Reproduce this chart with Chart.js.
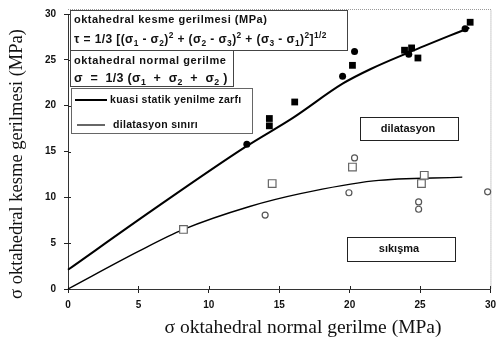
<!DOCTYPE html>
<html>
<head>
<meta charset="utf-8">
<script src="https://cdn.jsdelivr.net/npm/chart.js@4.4.1/dist/chart.umd.min.js"></script>
<style>
html,body{margin:0;padding:0;background:#fff;}
#wrap{width:502px;height:345px;position:relative;}
</style>
</head>
<body>
<div id="wrap"><canvas id="c" width="502" height="345"></canvas></div>
<script>
// ---- data ----
const upperX = [0, 6, 12.6, 16, 19.5, 21.5, 24.2, 28.5];
const upperY = [2.1, 8.6, 15.5, 18.7, 22.4, 24.0, 25.8, 28.5];
const lowerX = [0, 5, 8.2, 12.9, 16.5, 21.7, 28];
const lowerY = [0, 4.1, 6.5, 9.0, 10.4, 11.8, 12.2];
const filledCircleX = [12.7, 19.5, 20.35, 24.2, 28.2];
const filledCircleY = [15.8, 23.2, 25.9, 25.6, 28.4];
const filledSquareX = [14.3, 14.3, 16.1, 20.2, 23.9, 24.4, 24.85, 28.56];
const filledSquareY = [18.6, 17.8, 20.4, 24.4, 26.05, 26.3, 25.2, 29.1];
const openCircleX = [14.0, 20.35, 19.95, 24.9, 24.9, 29.8];
const openCircleY = [8.06, 14.3, 10.5, 9.5, 8.7, 10.6];
const openSquareX = [8.2, 14.5, 20.2, 25.3, 25.1];
const openSquareY = [6.5, 11.5, 13.3, 12.4, 11.5];
const xTicks = [0, 5, 10, 15, 20, 25, 30];
const yTicks = [0, 5, 10, 15, 20, 25, 30];
const xTitle = 'σ oktahedral normal gerilme (MPa)';
const yTitle = 'σ oktahedral kesme gerilmesi (MPa)';
const legendUpper = 'kuasi statik yenilme zarfı';
const legendLower = 'dilatasyon sınırı';
const zoneTop = 'dilatasyon';
const zoneBottom = 'sıkışma';

const pts = (xs, ys) => xs.map((x, i) => ({x: x, y: ys[i]}));

function richText(ctx, x, y, segs, size, spacing) {
  let cx = x;
  ctx.letterSpacing = (spacing || 0) + 'px';
  segs.forEach(s => {
    let t = s[0], m = s[1] || '';
    let fs = m ? size * 0.7 : size;
    ctx.font = 'bold ' + fs + 'px "Liberation Sans", Arial, sans-serif';
    let dy = m === 'b' ? size * 0.3 : (m === 'p' ? -size * 0.4 : 0);
    ctx.fillText(t, cx, y + dy);
    cx += ctx.measureText(t).width;
  });
  ctx.letterSpacing = '0px';
}

function box(ctx, x1, y1, x2, y2, color) {
  ctx.save();
  ctx.fillStyle = '#fff';
  ctx.fillRect(x1, y1, x2 - x1, y2 - y1);
  ctx.strokeStyle = color || '#444';
  ctx.lineWidth = 1;
  ctx.strokeRect(x1 + 0.5, y1 + 0.5, x2 - x1, y2 - y1);
  ctx.restore();
}

const decor = {
  id: 'decor',
  beforeDatasetsDraw(chart) {
    const ctx = chart.ctx, a = chart.chartArea;
    ctx.save();
    ctx.strokeStyle = '#999';
    ctx.lineWidth = 1;
    ctx.setLineDash([1, 1]);
    ctx.beginPath();
    ctx.moveTo(a.left, a.top - 5 + 0.5);
    ctx.lineTo(a.right + 0.5, a.top - 5 + 0.5);
    ctx.lineTo(a.right + 0.5, a.bottom);
    ctx.stroke();
    ctx.setLineDash([]);
    // crossing tick marks on the axes
    ctx.strokeStyle = '#222';
    const xs = chart.scales.x, ys = chart.scales.y;
    ctx.beginPath();
    yTicks.forEach(v => { const p = Math.round(ys.getPixelForValue(v)) + 0.5; ctx.moveTo(a.left, p); ctx.lineTo(a.left + 3, p); });
    xTicks.forEach(v => { const p = Math.round(xs.getPixelForValue(v)) + 0.5; ctx.moveTo(p, a.bottom); ctx.lineTo(p, a.bottom - 3); });
    ctx.stroke();
    ctx.restore();
  },
  afterDraw(chart) {
    const ctx = chart.ctx;
    ctx.save();
    // axis titles
    ctx.fillStyle = '#111';
    ctx.textAlign = 'center';
    ctx.textBaseline = 'middle';
    ctx.font = '19.5px "Liberation Serif", "Times New Roman", serif';
    ctx.fillText(xTitle, 303, 328);
    ctx.font = '18.5px "Liberation Serif", "Times New Roman", serif';
    ctx.save();
    ctx.translate(17, 164);
    ctx.rotate(-Math.PI / 2);
    ctx.fillText(yTitle, 0, 0);
    ctx.restore();

    // formula boxes
    box(ctx, 70, 10, 347, 50);
    box(ctx, 70, 50, 233, 86);
    box(ctx, 71, 88, 252, 133, '#666');
    ctx.fillStyle = '#111';
    ctx.textAlign = 'left';
    ctx.textBaseline = 'middle';
    richText(ctx, 74, 20, [['oktahedral kesme gerilmesi (MPa)']], 11, 0.5);
    richText(ctx, 74, 40, [
      ['τ = 1/3 [(σ'], ['1', 'b'], [' - σ'], ['2', 'b'], [')'], ['2', 'p'],
      [' + (σ'], ['2', 'b'], [' - σ'], ['3', 'b'], [')'], ['2', 'p'],
      [' + (σ'], ['3', 'b'], [' - σ'], ['1', 'b'], [')'], ['2', 'p'],
      [']'], ['1/2', 'p']
    ], 12, 0.4);
    richText(ctx, 74, 61, [['oktahedral normal gerilme']], 11, 0.6);
    richText(ctx, 74, 79, [
      ['σ  =  1/3 (σ'], ['1', 'b'], ['  +  σ'], ['2', 'b'], ['  +  σ'], ['2', 'b'], [' )']
    ], 12.5, 0.3);
    // legend
    ctx.strokeStyle = '#000';
    ctx.lineWidth = 2;
    ctx.beginPath(); ctx.moveTo(75, 100); ctx.lineTo(107, 100); ctx.stroke();
    ctx.lineWidth = 1.2;
    ctx.beginPath(); ctx.moveTo(77, 125); ctx.lineTo(105, 125); ctx.stroke();
    richText(ctx, 110, 100, [[legendUpper]], 10.5, 0.3);
    richText(ctx, 113, 125, [[legendLower]], 10.5, 0.3);

    // zone boxes
    box(ctx, 360, 117, 458, 140, '#222');
    box(ctx, 347, 237, 455, 261, '#222');
    ctx.textAlign = 'center';
    ctx.font = 'bold 11px "Liberation Sans", Arial, sans-serif';
    ctx.fillText(zoneTop, 408, 129);
    ctx.fillText(zoneBottom, 399, 249);
    ctx.restore();
  }
};

new Chart(document.getElementById('c'), {
  type: 'scatter',
  data: {
    datasets: [
      {type: 'line', label: legendUpper, data: pts(upperX, upperY), borderColor: '#000', borderWidth: 2,
       pointRadius: 0, cubicInterpolationMode: 'monotone', fill: false, order: 5},
      {type: 'line', label: legendLower, data: pts(lowerX, lowerY), borderColor: '#000', borderWidth: 1.4,
       pointRadius: 0, cubicInterpolationMode: 'monotone', fill: false, order: 6},
      {label: 'fc', data: pts(filledCircleX, filledCircleY), pointStyle: 'circle', pointRadius: 3.5,
       backgroundColor: '#000', borderColor: '#000', borderWidth: 0, order: 1},
      {label: 'fs', data: pts(filledSquareX, filledSquareY), pointStyle: 'rect', pointRadius: 4.8,
       backgroundColor: '#000', borderColor: '#000', borderWidth: 0, order: 1},
      {label: 'oc', data: pts(openCircleX, openCircleY), pointStyle: 'circle', pointRadius: 3,
       backgroundColor: '#fff', borderColor: '#555', borderWidth: 1.2, order: 2},
      {label: 'os', data: pts(openSquareX, openSquareY), pointStyle: 'rect', pointRadius: 5.4,
       backgroundColor: '#fff', borderColor: '#666', borderWidth: 1.2, order: 2}
    ]
  },
  options: {
    responsive: false,
    animation: false,
    devicePixelRatio: 1,
    layout: {padding: {top: 10, right: 11, left: 0, bottom: 0}},
    plugins: {legend: {display: false}, tooltip: {enabled: false}},
    clip: false,
    scales: {
      x: {
        type: 'linear', min: 0, max: 30,
        afterFit: s => { s.height = 56; },
        afterBuildTicks: s => { s.ticks = xTicks.map(v => ({value: v})); },
        grid: {drawOnChartArea: false, drawTicks: true, tickLength: 4, color: '#222'},
        border: {display: true, color: '#333', width: 1},
        ticks: {color: '#111', padding: 6, font: {family: '"Liberation Sans", Arial, sans-serif', size: 10, weight: 'bold'}}
      },
      y: {
        type: 'linear', min: 0, max: 30,
        afterFit: s => { s.width = 68; },
        afterBuildTicks: s => { s.ticks = yTicks.map(v => ({value: v})); },
        grid: {drawOnChartArea: false, drawTicks: true, tickLength: 4, color: '#222'},
        border: {display: true, color: '#333', width: 1},
        ticks: {color: '#111', padding: 8, font: {family: '"Liberation Sans", Arial, sans-serif', size: 10, weight: 'bold'}}
      }
    }
  },
  plugins: [decor]
});
</script>
</body>
</html>
